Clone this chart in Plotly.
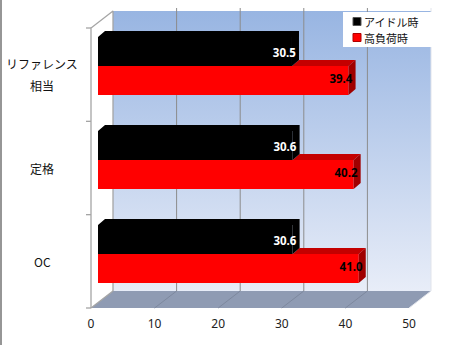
import plotly.graph_objects as go

# ---------------- data ----------------
categories = ["リファレンス\n相当", "定格", "OC"]
series_names = ["アイドル時", "高負荷時"]
idle_values = [30.5, 30.6, 30.6]
load_values = [39.4, 40.2, 41.0]
x_ticks = [0, 10, 20, 30, 40, 50]
series_colors = ["#000000", "#ff0000"]

# ---------------- geometry (pixel layout) ----------------
W, H = 450, 345
L, R, T, B = 85, 5, 5, 30
PX0 = 91        # front-axis pixel of value 0
PXU = 6.36      # pixels per unit
BAR0 = 98       # pixel where bars start
DEPTH_X, DEPTH_Y = 22, 17     # 3D offset of back wall
WALL_TOP, FLOOR_FRONT = 11, 308
FRONT_TOP = 28
YC0, YCU = 66, 94  # bar group centre pixel / pixels per category
BAR_DX, BAR_DY = 7, 6

def fx(px):
    return (px - PX0) / PXU

def fy(py):
    return H - py

xr = [fx(L), fx(W - R)]
yr = [fy(H - B), fy(T)]
x2r = [(L - BAR0) / PXU, (W - R - BAR0) / PXU]
y2r = [((H - B) - YC0) / YCU, (T - YC0) / YCU]

vmax = x_ticks[-1]
back_l = PX0 + DEPTH_X
back_r = PX0 + vmax * PXU + DEPTH_X
front_r = PX0 + vmax * PXU
wall_bot = FLOOR_FRONT - DEPTH_Y

fig = go.Figure()
skip = dict(hoverinfo="skip", showlegend=False)

# back wall with vertical gradient
fig.add_trace(go.Scatter(
    x=[fx(back_l), fx(back_r), fx(back_r), fx(back_l), fx(back_l)],
    y=[fy(WALL_TOP), fy(WALL_TOP), fy(wall_bot), fy(wall_bot), fy(WALL_TOP)],
    mode="lines", line=dict(width=0), fill="toself",
    fillgradient=dict(type="vertical",
                      colorscale=[[0, "rgb(232,237,248)"], [1, "rgb(152,181,226)"]],
                      start=fy(wall_bot), stop=fy(WALL_TOP)),
    **skip))

# floor
fig.add_trace(go.Scatter(
    x=[fx(PX0), fx(front_r), fx(back_r), fx(back_l), fx(PX0)],
    y=[fy(FLOOR_FRONT), fy(FLOOR_FRONT), fy(wall_bot), fy(wall_bot), fy(FLOOR_FRONT)],
    mode="lines", line=dict(width=0), fill="toself", fillcolor="rgb(143,155,179)",
    **skip))

# wall gridlines + floor diagonals
gx, gy, fxl, fyl = [], [], [], []
for v in x_ticks[1:-1]:
    xb = fx(back_l) + v
    gx += [xb, xb, None]
    gy += [fy(WALL_TOP - 3), fy(wall_bot), None]
    fxl += [v, xb, None]
    fyl += [fy(FLOOR_FRONT), fy(wall_bot), None]
fig.add_trace(go.Scatter(x=gx, y=gy, mode="lines",
                         line=dict(color="rgb(140,140,140)", width=1), **skip))
fig.add_trace(go.Scatter(x=fxl, y=fyl, mode="lines",
                         line=dict(color="rgb(125,136,158)", width=1), **skip))

# wall right edge (light)
fig.add_trace(go.Scatter(x=[fx(back_r), fx(back_r), fx(front_r)],
                         y=[fy(WALL_TOP - 3), fy(wall_bot), fy(FLOOR_FRONT)],
                         mode="lines", line=dict(color="rgb(225,228,235)", width=1), **skip))

# left frame lines
fig.add_trace(go.Scatter(
    x=[fx(PX0), fx(PX0), fx(back_l), fx(back_l), None, fx(PX0), fx(back_l)],
    y=[fy(FLOOR_FRONT), fy(FRONT_TOP), fy(WALL_TOP), fy(wall_bot), None,
       fy(FLOOR_FRONT), fy(wall_bot)],
    mode="lines", line=dict(color="rgb(165,165,165)", width=1.3), **skip))

# left axis tick marks at category boundaries
tkx, tky = [], []
ncat = len(categories)
step = (FLOOR_FRONT - FRONT_TOP) / ncat
for k in range(ncat + 1):
    yy = FRONT_TOP + k * step
    tkx += [fx(PX0 - 5), fx(PX0), None]
    tky += [fy(yy), fy(yy), None]
fig.add_trace(go.Scatter(x=tkx, y=tky, mode="lines",
                         line=dict(color="rgb(165,165,165)", width=1.3), **skip))

# legend box + markers (drawn manually for compact spacing)
LG_X0, LG_X1, LG_Y0, LG_Y1 = 343, 432, 12, 47
fig.add_trace(go.Scatter(
    x=[fx(LG_X0), fx(LG_X1), fx(LG_X1), fx(LG_X0), fx(LG_X0)],
    y=[fy(LG_Y0), fy(LG_Y0), fy(LG_Y1), fy(LG_Y1), fy(LG_Y0)],
    mode="lines", line=dict(width=0), fill="toself", fillcolor="white", **skip))
leg_y = [21.5, 37.5]
fig.add_trace(go.Scatter(
    x=[fx(357)] * len(series_names), y=[fy(v) for v in leg_y], mode="markers",
    marker=dict(symbol="square", size=8, color=series_colors,
                line=dict(color=["#555555", "#b00000"], width=1)),
    **skip))

# ---------------- bars (overlay axes) ----------------
bargap = 0.383
w = (1 - bargap) / 2
ypos = list(range(ncat))
for k, (name, vals) in enumerate(zip(series_names, [idle_values, load_values])):
    fig.add_trace(go.Bar(
        x=vals, y=ypos, orientation="h", name=name,
        marker=dict(color=series_colors[k], line=dict(width=0)),
        xaxis="x2", yaxis="y2", hoverinfo="skip", showlegend=False))

dxu = BAR_DX / PXU
dyu = BAR_DY / YCU
blk_x, blk_y, rtop_x, rtop_y, rside_x, rside_y = [], [], [], [], [], []
for i in range(ncat):
    bv, rv = idle_values[i], load_values[i]
    bt = i - w
    bb = i
    rt = i
    rb = i + w
    # black top face + right face
    blk_x += [0, bv, bv + dxu, dxu, 0, None]
    blk_y += [bt, bt, bt - dyu, bt - dyu, bt, None]
    blk_x += [bv, bv + dxu, bv + dxu, bv, bv, None]
    blk_y += [bt, bt - dyu, bb - dyu, bb, bt, None]
    # red visible top face
    rtop_x += [bv, rv, rv + dxu, bv + dxu, bv, None]
    rtop_y += [rt, rt, rt - dyu, rt - dyu, rt, None]
    # red right face
    rside_x += [rv, rv + dxu, rv + dxu, rv, rv, None]
    rside_y += [rt, rt - dyu, rb - dyu, rb, rt, None]

fig.add_trace(go.Scatter(x=rtop_x, y=rtop_y, mode="lines", fill="toself",
                         fillcolor="rgb(196,0,0)", line=dict(width=0),
                         xaxis="x2", yaxis="y2", **skip))
fig.add_trace(go.Scatter(x=rside_x, y=rside_y, mode="lines", fill="toself",
                         fillcolor="rgb(160,0,0)", line=dict(width=0),
                         xaxis="x2", yaxis="y2", **skip))
fig.add_trace(go.Scatter(x=blk_x, y=blk_y, mode="lines", fill="toself",
                         fillcolor="#000000", line=dict(width=0),
                         xaxis="x2", yaxis="y2", **skip))

# value labels
txt_font = dict(family="Noto Sans, DejaVu Sans, sans-serif", size=11.5)
label_shift = [3 / YCU, 0]
for k, vals in enumerate([idle_values, load_values]):
    fig.add_trace(go.Scatter(
        x=[v + 0.6 for v in vals],
        y=[i - w + k * w + w / 2 + label_shift[k] for i in ypos],
        mode="text", text=[f"{v:.1f}" for v in vals],
        textposition="middle left",
        textfont=dict(txt_font, color="white" if k == 0 else "black", weight="bold"),
        xaxis="x2", yaxis="y2", **skip))

# ---------------- annotations ----------------
annotations = []
cat_font = dict(family="Noto Sans CJK JP, sans-serif", size=12, color="#111111")
for i, cat in enumerate(categories):
    lines = cat.split("\n")
    centre = FRONT_TOP + (i + 0.5) * step
    for j, ln in enumerate(lines):
        py = centre + (j - (len(lines) - 1) / 2) * 22
        annotations.append(dict(
            text=ln, x=(42 - L) / (W - L - R), xref="paper", y=fy(py), yref="y",
            xanchor="center", yanchor="middle", showarrow=False, font=cat_font))
for name, py in zip(series_names, leg_y):
    annotations.append(dict(
        text=name, x=fx(362), xref="x", y=fy(py), yref="y",
        xanchor="left", yanchor="middle", showarrow=False,
        font=dict(family="Noto Sans CJK JP, sans-serif", size=11, color="#111111")))

fig.update_layout(
    width=W, height=H,
    margin=dict(l=L, r=R, t=T, b=B, pad=0),
    paper_bgcolor="white", plot_bgcolor="white",
    barmode="group", bargap=bargap, bargroupgap=0,
    showlegend=False,
    xaxis=dict(range=xr, tickvals=x_ticks, ticktext=[str(v) for v in x_ticks],
               showgrid=False, zeroline=False, showline=False, ticks="",
               tickfont=dict(family="Noto Sans, DejaVu Sans, sans-serif", size=12,
                             color="#222222"), fixedrange=True),
    yaxis=dict(range=yr, visible=False, fixedrange=True),
    xaxis2=dict(range=x2r, overlaying="x", visible=False, fixedrange=True),
    yaxis2=dict(range=y2r, overlaying="y", visible=False, fixedrange=True),
    annotations=annotations,
    shapes=[dict(type="line", xref="paper", yref="paper",
                 x0=(1 - L) / (W - L - R), x1=(1 - L) / (W - L - R),
                 y0=-0.2, y1=1.2, line=dict(color="rgb(150,150,150)", width=2))],
)

fig.write_html("out.html")
